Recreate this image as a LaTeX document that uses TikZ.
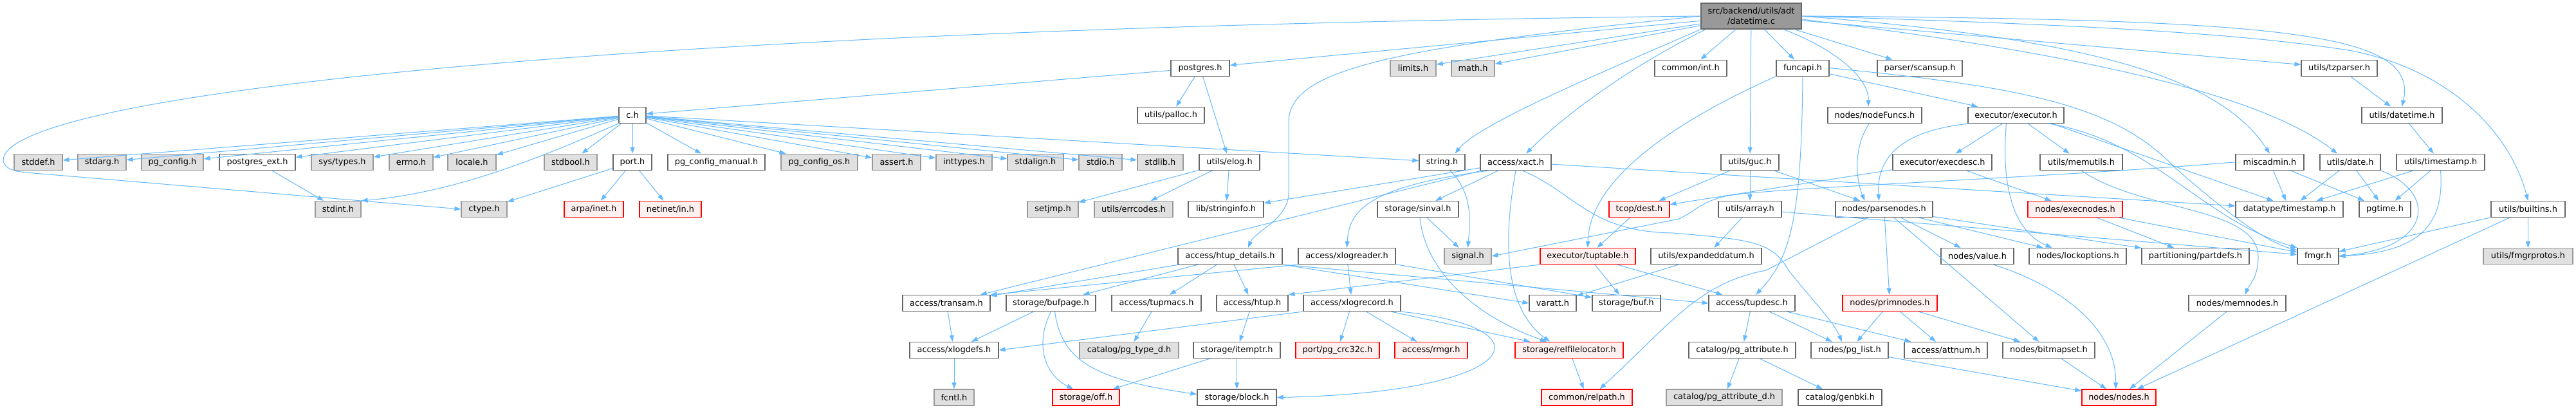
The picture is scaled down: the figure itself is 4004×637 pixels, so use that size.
\documentclass[tikz,border=0pt]{standalone}
\usepackage{fontspec}
\setmainfont{DejaVu Sans}
\usetikzlibrary{arrows.meta}
\definecolor{edgeblue}{HTML}{63B8FF}
\definecolor{boxline}{HTML}{666666}
\definecolor{sysline}{HTML}{999999}
\definecolor{sysfill}{HTML}{E0E0E0}
\definecolor{truncfill}{HTML}{FFF0F0}
\definecolor{rootfill}{HTML}{999999}

\begin{document}
\begin{tikzpicture}[x=1pt,y=-1pt,
    font=\fontsize{12.9}{15.5}\selectfont,
    box/.style={draw=boxline,fill=white,line width=1.2pt,minimum height=25pt,inner sep=0pt},
    sys/.style={box,draw=sysline,fill=sysfill},
    trunc/.style={box,draw=red,fill=truncfill},
    root/.style={box,fill=rootfill,minimum height=40pt,align=center},
    dep/.style={edgeblue,line width=1pt,-{Triangle[length=10pt,width=7pt]}}]
    \useasboundingbox (0,0) rectangle (4004,637);

    % the file itself
    \node[root,minimum width=156pt] (root) at (2722,25) {src/backend/utils/adt\\/datetime.c};

    % row 1
    \node[box,minimum width=91pt] (postgres) at (1865.5,105.6) {postgres.h};
    \node[sys,minimum width=71pt] (limits) at (2196.5,105.6) {limits.h};
    \node[sys,minimum width=67pt] (math) at (2289.5,105.6) {math.h};
    \node[box,minimum width=112pt] (int) at (2628,105.6) {common/int.h};
    \node[box,minimum width=82pt] (funcapi) at (2802,105.6) {funcapi.h};
    \node[box,minimum width=132pt] (scansup) at (2984,105.6) {parser/scansup.h};
    \node[box,minimum width=118pt] (tzparser) at (3636,105.6) {utils/tzparser.h};

    % row 2
    \node[box,minimum width=42pt] (ch) at (983,178.7) {c.h};
    \node[box,minimum width=104pt] (palloc) at (1820,178.7) {utils/palloc.h};
    \node[box,minimum width=146pt] (nodeFuncs) at (2914,178.7) {nodes/nodeFuncs.h};
    \node[box,minimum width=149pt] (executor) at (3133.5,178.7) {executor/executor.h};
    \node[box,minimum width=125pt] (datetimeh) at (3733.5,178.7) {utils/datetime.h};

    % row 3
    \node[sys,minimum width=75pt] (stddef) at (59.5,251.8) {stddef.h};
    \node[sys,minimum width=75pt] (stdarg) at (158.5,251.8) {stdarg.h};
    \node[sys,minimum width=96pt] (pgconfig) at (268,251.8) {pg\_config.h};
    \node[box,minimum width=118pt] (pgext) at (400,251.8) {postgres\_ext.h};
    \node[sys,minimum width=96pt] (systypes) at (532,251.8) {sys/types.h};
    \node[sys,minimum width=68pt] (errno) at (639,251.8) {errno.h};
    \node[sys,minimum width=75pt] (locale) at (733.5,251.8) {locale.h};
    \node[sys,minimum width=82pt] (stdbool) at (887,251.8) {stdbool.h};
    \node[box,minimum width=60pt] (port) at (983,251.8) {port.h};
    \node[box,minimum width=151pt] (pgcfgmanual) at (1113.5,251.8) {pg\_config\_manual.h};
    \node[sys,minimum width=119pt] (pgcfgos) at (1273.5,251.8) {pg\_config\_os.h};
    \node[sys,minimum width=75pt] (assert) at (1393.5,251.8) {assert.h};
    \node[sys,minimum width=87pt] (inttypes) at (1498.5,251.8) {inttypes.h};
    \node[sys,minimum width=87pt] (stdalign) at (1609.5,251.8) {stdalign.h};
    \node[sys,minimum width=67pt] (stdio) at (1710.5,251.8) {stdio.h};
    \node[sys,minimum width=71pt] (stdlib) at (1803.5,251.8) {stdlib.h};
    \node[box,minimum width=94pt] (elog) at (1911,251.8) {utils/elog.h};
    \node[box,minimum width=71pt] (string) at (2241.5,251.8) {string.h};
    \node[box,minimum width=110pt] (xact) at (2356,251.8) {access/xact.h};
    \node[box,minimum width=90pt] (guc) at (2720,251.8) {utils/guc.h};
    \node[box,minimum width=154pt] (execdesc) at (3019,251.8) {executor/execdesc.h};
    \node[box,minimum width=128pt] (memutils) at (3235,251.8) {utils/memutils.h};
    \node[box,minimum width=106pt] (miscadmin) at (3528,251.8) {miscadmin.h};
    \node[box,minimum width=94pt] (date) at (3653,251.8) {utils/date.h};
    \node[box,minimum width=137pt] (timestamp) at (3793.5,251.8) {utils/timestamp.h};

    % row 4
    \node[sys,minimum width=71pt] (stdint) at (525.5,325) {stdint.h};
    \node[sys,minimum width=71pt] (ctype) at (752.5,325) {ctype.h};
    \node[trunc,minimum width=92pt] (inet) at (923,325) {arpa/inet.h};
    \node[trunc,minimum width=96pt] (netin) at (1042,325) {netinet/in.h};
    \node[sys,minimum width=79pt] (setjmp) at (1636.5,325) {setjmp.h};
    \node[sys,minimum width=122pt] (errcodes) at (1762,325) {utils/errcodes.h};
    \node[box,minimum width=117pt] (stringinfo) at (1905.5,325) {lib/stringinfo.h};
    \node[box,minimum width=126pt] (sinval) at (2204,325) {storage/sinval.h};
    \node[trunc,minimum width=94pt] (dest) at (2548,325) {tcop/dest.h};
    \node[box,minimum width=98pt] (array) at (2720,325) {utils/array.h};
    \node[box,minimum width=151pt] (parsenodes) at (2928.5,325) {nodes/parsenodes.h};
    \node[trunc,minimum width=147pt] (execnodes) at (3225.5,325) {nodes/execnodes.h};
    \node[box,minimum width=167pt] (dttimestamp) at (3558.5,325) {datatype/timestamp.h};
    \node[box,minimum width=80pt] (pgtime) at (3707,325) {pgtime.h};
    \node[box,minimum width=115pt] (builtins) at (3929.5,325) {utils/builtins.h};

    % row 5
    \node[box,minimum width=162pt] (htupdetails) at (1912,398) {access/htup\_details.h};
    \node[box,minimum width=151pt] (xlogreader) at (2093.5,398) {access/xlogreader.h};
    \node[sys,minimum width=73pt] (signal) at (2281.5,398) {signal.h};
    \node[trunc,minimum width=148pt] (tuptable) at (2468,398) {executor/tuptable.h};
    \node[box,minimum width=172pt] (expanded) at (2652,398) {utils/expandeddatum.h};
    \node[box,minimum width=113pt] (value) at (3073.5,398) {nodes/value.h};
    \node[box,minimum width=151pt] (lockoptions) at (3229.5,398) {nodes/lockoptions.h};
    \node[box,minimum width=167pt] (partdefs) at (3412.5,398) {partitioning/partdefs.h};
    \node[box,minimum width=64pt] (fmgr) at (3603,398) {fmgr.h};
    \node[sys,minimum width=139pt] (fmgrprotos) at (3929.5,398) {utils/fmgrprotos.h};

    % row 6
    \node[box,minimum width=136pt] (transam) at (1471,471) {access/transam.h};
    \node[box,minimum width=139pt] (bufpage) at (1633.5,471) {storage/bufpage.h};
    \node[box,minimum width=139pt] (tupmacs) at (1797.5,471) {access/tupmacs.h};
    \node[box,minimum width=111pt] (htup) at (1946.5,471) {access/htup.h};
    \node[box,minimum width=151pt] (xlogrecord) at (2101.5,471) {access/xlogrecord.h};
    \node[box,minimum width=73pt] (varatt) at (2413.5,471) {varatt.h};
    \node[box,minimum width=106pt] (buf) at (2528,471) {storage/buf.h};
    \node[box,minimum width=134pt] (tupdesc) at (2723,471) {access/tupdesc.h};
    \node[trunc,minimum width=147pt] (primnodes) at (2937.5,471) {nodes/primnodes.h};
    \node[box,minimum width=151pt] (memnodes) at (3477.5,471) {nodes/memnodes.h};

    % row 7
    \node[box,minimum width=138pt] (xlogdefs) at (1483,544) {access/xlogdefs.h};
    \node[sys,minimum width=154pt] (pgtyped) at (1755,544) {catalog/pg\_type\_d.h};
    \node[box,minimum width=135pt] (itemptr) at (1922.5,544) {storage/itemptr.h};
    \node[trunc,minimum width=130pt] (crc32c) at (2079,544) {port/pg\_crc32c.h};
    \node[trunc,minimum width=113pt] (rmgr) at (2224.5,544) {access/rmgr.h};
    \node[trunc,minimum width=168pt] (relfile) at (2439,544) {storage/relfilelocator.h};
    \node[box,minimum width=166pt] (pgattr) at (2708,544) {catalog/pg\_attribute.h};
    \node[box,minimum width=120pt] (pglist) at (2875,544) {nodes/pg\_list.h};
    \node[box,minimum width=129pt] (attnum) at (3024.5,544) {access/attnum.h};
    \node[box,minimum width=143pt] (bitmapset) at (3184.5,544) {nodes/bitmapset.h};

    % row 8
    \node[sys,minimum width=62pt] (fcntl) at (1483,617.5) {fcntl.h};
    \node[trunc,minimum width=104pt] (off) at (1688,617.5) {storage/off.h};
    \node[box,minimum width=123pt] (block) at (1922.5,617.5) {storage/block.h};
    \node[trunc,minimum width=141pt] (relpath) at (2466.5,617.5) {common/relpath.h};
    \node[sys,minimum width=180pt] (pgattrd) at (2680,617.5) {catalog/pg\_attribute\_d.h};
    \node[box,minimum width=130pt] (genbki) at (2860,617.5) {catalog/genbki.h};
    \node[trunc,minimum width=115pt] (nodes) at (3293.5,617.5) {nodes/nodes.h};

    % includes of datetime.c
    \draw[dep] (root.west) .. controls (900,45) and (0,150) .. (5,250) .. controls (8,262) and (20,266) .. (40,268) -- (ctype.west);
    \draw[dep] (root) -- (postgres);
    \draw[dep] (root.west) .. controls (2150,75) and (2003,110) .. (2003,190) -- (2003,300) .. controls (2003,340) and (1950,360) .. ([xshift=28pt]htupdetails.north);
    \draw[dep] (root) -- (limits);
    \draw[dep] (root) -- (math);
    \draw[dep] (root.south west) .. controls (2520,100) and (2300,190) .. ([xshift=20pt]string.north);
    \draw[dep] ([xshift=8pt]root.south west) .. controls (2520,110) and (2420,190) .. ([xshift=16pt]xact.north);
    \draw[dep] (root) -- (int);
    \draw[dep] (root) -- (guc);
    \draw[dep] (root) -- (funcapi);
    \draw[dep] ([xshift=50pt]root.south) .. controls (2850,75) and (2905,120) .. ([xshift=-10pt]nodeFuncs.north);
    \draw[dep] (root) -- (scansup);
    \draw[dep] (root) -- (tzparser);
    \draw[dep] (root.east) .. controls (3550,30) and (3760,50) .. (datetimeh.north);
    \draw[dep] (root.east) .. controls (3300,40) and (3500,55) .. (3650,78) .. controls (3800,105) and (3900,200) .. (builtins.north);
    \draw[dep] (root.east) .. controls (3250,60) and (3450,120) .. (miscadmin.north);
    \draw[dep] ([yshift=-5pt]root.east) .. controls (3250,85) and (3520,150) .. ([xshift=-20pt]date.north);

    % postgres.h and c.h
    \draw[dep] (postgres) -- (ch);
    \draw[dep] (postgres) -- (palloc);
    \draw[dep] (postgres) -- (elog);
    \draw[dep] (ch) -- (stddef);
    \draw[dep] (ch) -- (stdarg);
    \draw[dep] (ch) -- (pgconfig);
    \draw[dep] (ch) -- (pgext);
    \draw[dep] (ch) -- (systypes);
    \draw[dep] (ch) -- (errno);
    \draw[dep] (ch) -- (locale);
    \draw[dep] (ch) -- (stdbool);
    \draw[dep] (ch) -- (port);
    \draw[dep] (ch) -- (pgcfgmanual);
    \draw[dep] (ch) -- (pgcfgos);
    \draw[dep] (ch) -- (assert);
    \draw[dep] (ch) -- (inttypes);
    \draw[dep] (ch) -- (stdalign);
    \draw[dep] (ch) -- (stdio);
    \draw[dep] (ch) -- (stdlib);
    \draw[dep] (ch) -- (string);
    \draw[dep] (ch.south west) .. controls (830,250) and (700,300) .. (stdint.north east);
    \draw[dep] (pgext) -- (stdint);
    \draw[dep] (port) -- (ctype);
    \draw[dep] (port) -- (inet);
    \draw[dep] (port) -- (netin);
    \draw[dep] (elog) -- (setjmp);
    \draw[dep] (elog) -- (errcodes);
    \draw[dep] (elog) -- (stringinfo);
    \draw[dep] ([xshift=12pt]string.south) .. controls (2290,300) and (2285,345) .. (signal.north);

    % access/xact.h
    \draw[dep] (xact) -- (transam);
    \draw[dep] ([xshift=-40pt]xact.south) .. controls (2120,290) and (2097,330) .. (xlogreader.north);
    \draw[dep] (xact) -- (stringinfo);
    \draw[dep] (xact) -- (sinval);
    \draw[dep] (xact.south) .. controls (2335,380) and (2340,480) .. ([xshift=-30pt]relfile.north);
    \draw[dep] ([xshift=10pt]xact.south) .. controls (2450,300) and (2470,360) .. (2600,362) .. controls (2720,372) and (2755,375) .. (2780,420) .. controls (2820,470) and (2850,500) .. ([xshift=-12pt]pglist.north);
    \draw[dep] (xact) -- (dttimestamp);
    \draw[dep] (sinval) -- (signal);
    \draw[dep] ([xshift=3pt]sinval.south) .. controls (2215,420) and (2290,490) .. ([xshift=-35pt]relfile.north);

    % utils/guc.h, funcapi.h, executor
    \draw[dep] (guc) -- (dest);
    \draw[dep] (guc) -- (array);
    \draw[dep] (guc) -- (parsenodes);
    \draw[dep] (funcapi.south west) .. controls (2600,190) and (2470,280) .. (tuptable.north);
    \draw[dep] (funcapi.south) .. controls (2800,330) and (2785,400) .. ([xshift=6pt]tupdesc.north);
    \draw[dep] (funcapi) -- (executor);
    \draw[dep] (funcapi.east) .. controls (3150,135) and (3290,165) .. (3380,260) .. controls (3460,330) and (3520,375) .. ([yshift=-4pt]fmgr.north west);
    \draw[dep] (nodeFuncs) .. controls (2880,230) and (2885,280) .. ([xshift=-30pt]parsenodes.north);
    \draw[dep] ([xshift=-70pt]executor.south) .. controls (2925,205) and (2918,270) .. ([xshift=-8pt]parsenodes.north);
    \draw[dep] (executor) -- (execdesc);
    \draw[dep] (executor) -- (memutils);
    \draw[dep] ([xshift=-15pt]executor.south) .. controls (3110,290) and (3130,360) .. ([xshift=-40pt]lockoptions.north);
    \draw[dep] ([xshift=55pt]executor.south) -- ([xshift=-25pt]dttimestamp.north);
    \draw[dep] ([xshift=50pt]executor.south) .. controls (3350,220) and (3420,340) .. (fmgr.north west);
    \draw[dep] (execdesc) -- (dest);
    \draw[dep] (execdesc) -- (execnodes);
    \draw[dep] (memutils.south) .. controls (3330,330) and (3510,320) .. (3510,400) .. controls (3510,430) and (3495,445) .. ([xshift=12pt]memnodes.north);

    % time headers
    \draw[dep] (miscadmin.west) .. controls (3200,275) and (2800,290) .. (2700,302) .. controls (2650,308) and (2640,325) .. (2610,340) -- (signal.east);
    \draw[dep] (miscadmin) -- (dttimestamp);
    \draw[dep] (miscadmin) -- (pgtime);
    \draw[dep] (date) -- (dttimestamp);
    \draw[dep] (date) -- (pgtime);
    \draw[dep] (date.south east) .. controls (3790,300) and (3780,385) .. (fmgr.east);
    \draw[dep] (timestamp) -- (dttimestamp);
    \draw[dep] (timestamp) -- (pgtime);
    \draw[dep] (timestamp.south) .. controls (3800,350) and (3760,392) .. (fmgr.east);
    \draw[dep] (datetimeh) -- (timestamp);
    \draw[dep] (tzparser) -- (datetimeh);
    \draw[dep] (builtins) -- (fmgr);
    \draw[dep] (builtins) -- (fmgrprotos);
    \draw[dep] (builtins) -- (nodes);

    % row 4 sources
    \draw[dep] (dest) -- (tuptable);
    \draw[dep] (array) -- (expanded);
    \draw[dep] (array) -- (fmgr);
    \draw[dep] ([xshift=-25pt]parsenodes.south) -- (2745,420) .. controls (2640,440) and (2600,500) .. ([xshift=20pt]relpath.north);
    \draw[dep] (parsenodes) -- (primnodes);
    \draw[dep] (parsenodes) -- (bitmapset);
    \draw[dep] (parsenodes) -- (value);
    \draw[dep] (parsenodes) -- (lockoptions);
    \draw[dep] (parsenodes) -- (partdefs);
    \draw[dep] (execnodes) -- (partdefs);
    \draw[dep] (execnodes) -- (fmgr);

    % row 5 sources
    \draw[dep] (htupdetails) -- (transam);
    \draw[dep] (htupdetails) -- (bufpage);
    \draw[dep] (htupdetails) -- (tupmacs);
    \draw[dep] (htupdetails) -- (htup);
    \draw[dep] (htupdetails.south east) -- (varatt.west);
    \draw[dep] (htupdetails.south east) -- (tupdesc.west);
    \draw[dep] (xlogreader.south west) -- (transam.north east);
    \draw[dep] (xlogreader) -- (xlogrecord);
    \draw[dep] (xlogreader) -- (buf);
    \draw[dep] (tuptable.south west) -- (htup.north east);
    \draw[dep] (tuptable) -- (buf);
    \draw[dep] (tuptable) -- (tupdesc);
    \draw[dep] (expanded) -- (varatt);
    \draw[dep] ([xshift=25pt]value.south) .. controls (3220,450) and (3290,520) .. ([xshift=-5pt]nodes.north);

    % row 6 sources
    \draw[dep] (transam) -- (xlogdefs);
    \draw[dep] (bufpage) -- (xlogdefs);
    \draw[dep] (bufpage.south) .. controls (1610,530) and (1620,580) .. ([xshift=-20pt]off.north);
    \draw[dep] ([xshift=6pt]bufpage.south) .. controls (1650,560) and (1700,590) .. ([yshift=5pt]block.west);
    \draw[dep] (tupmacs) -- (pgtyped);
    \draw[dep] (htup) -- (itemptr);
    \draw[dep] (xlogrecord.south west) -- (xlogdefs.east);
    \draw[dep] (xlogrecord) -- (crc32c);
    \draw[dep] (xlogrecord) -- (rmgr);
    \draw[dep] (xlogrecord) -- (relfile);
    \draw[dep] (xlogrecord.south east) .. controls (2420,510) and (2360,610) .. (block.east);
    \draw[dep] (tupdesc) -- (pgattr);
    \draw[dep] (tupdesc) -- (pglist);
    \draw[dep] (tupdesc) -- (attnum);
    \draw[dep] (primnodes) -- (pglist);
    \draw[dep] (primnodes) -- (attnum);
    \draw[dep] (primnodes) -- (bitmapset);
    \draw[dep] (memnodes) -- (nodes);

    % row 7 sources
    \draw[dep] (xlogdefs) -- (fcntl);
    \draw[dep] (itemptr) -- (off);
    \draw[dep] (itemptr) -- (block);
    \draw[dep] (relfile) -- (relpath);
    \draw[dep] (pgattr) -- (pgattrd);
    \draw[dep] (pgattr) -- (genbki);
    \draw[dep] (pglist) -- (nodes);
    \draw[dep] (bitmapset) -- (nodes);
\end{tikzpicture}
\end{document}
